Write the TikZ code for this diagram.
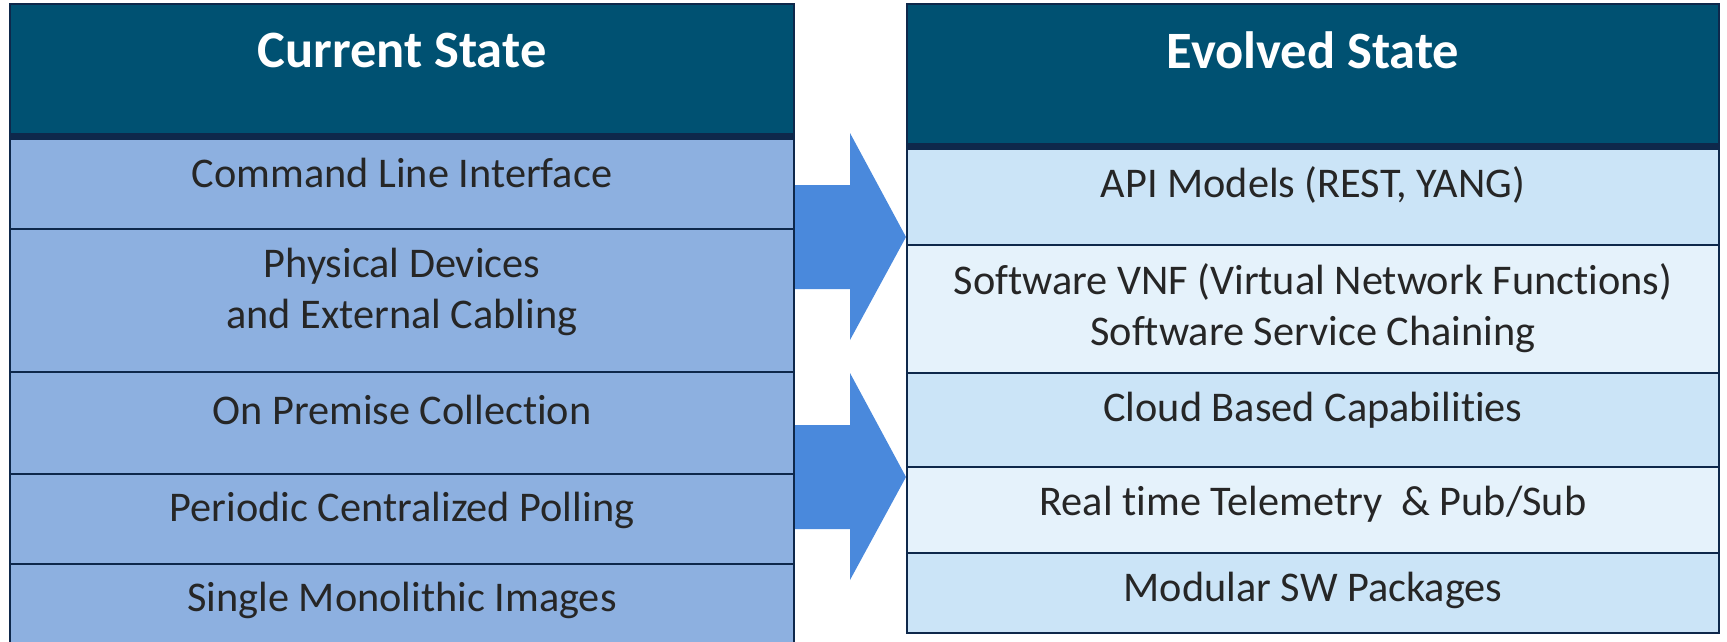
\documentclass[tikz,border=0pt]{standalone}
\usepackage{fontspec}
\setmainfont{Carlito}[Ligatures=NoCommon]
\usepackage{tikz}
\usetikzlibrary{positioning}

\definecolor{headblue}{RGB}{0,81,114}
\definecolor{edgeblue}{RGB}{14,40,75}
\definecolor{oldrow}{RGB}{141,176,224}
\definecolor{newdark}{RGB}{203,228,247}
\definecolor{newlight}{RGB}{229,242,251}
\definecolor{arrowblue}{RGB}{74,137,220}
\definecolor{inkgrey}{RGB}{38,38,38}

\begin{document}
\begin{tikzpicture}[x=1pt, y=-1pt]
\tikzstyle{head}=[font=\fontsize{52.5}{58}\bfseries\selectfont, text=white, inner sep=0pt];
\tikzstyle{item}=[font=\fontsize{42.3}{51}\selectfont, text=inkgrey, align=center, inner sep=0pt];
\tikzstyle{rule}=[draw=edgeblue, line width=2.5pt];
\useasboundingbox (0,0) rectangle (1727,641);
% arrows between the two tables
\foreach \d in {0, 240}
{\fill[arrowblue] (794,185+\d) -- (850,185+\d) -- (850,133+\d) -- (906,237+\d)
   -- (850,340+\d) -- (850,289+\d) -- (794,289+\d) -- cycle;}
% current state
\fill[headblue] (10,4) rectangle (794,136);
\foreach \a/\b in {136/229, 229/372, 372/474, 474/564, 564/660}
{\filldraw[rule, fill=oldrow] (10,\a) rectangle (794,\b);}
\draw[edgeblue, line width=7pt] (10,136) -- (794,136);
\draw[rule] (10,4) rectangle (794,660);
\node[head] (cur) at (402,50) {Current State};
\foreach \i/\y/\t in {1/173/Command Line Interface, 2/292/{Physical Devices\\and External Cabling},
                      3/410/On Premise Collection, 4/510/Periodic Centralized Polling,
                      5/600/Single Monolithic Images}
{\node[item] (c\i) at (402,\y) {\t};}
% evolved state
\fill[headblue] (907,4) rectangle (1719,146);
\foreach \a/\b/\f in {146/245/newdark, 245/373/newlight, 373/467/newdark, 467/553/newlight, 553/633/newdark}
{\filldraw[rule, fill=\f] (907,\a) rectangle (1719,\b);}
\draw[edgeblue, line width=7pt] (907,146) -- (1719,146);
\draw[rule] (907,4) rectangle (1719,633);
\node[head] (evo) at (1313,50) {Evolved State};
\foreach \i/\y/\t in {1/185/{API Models (REST, YANG)}, 2/308/{Software VNF (Virtual Network Functions)\\Software Service Chaining},
                      3/410/Cloud Based Capabilities, 4/504/{Real time Telemetry\ \ \& Pub/Sub},
                      5/590/Modular SW Packages}
{\node[item] (e\i) at (1313,\y) {\t};}
\end{tikzpicture}
\end{document}
